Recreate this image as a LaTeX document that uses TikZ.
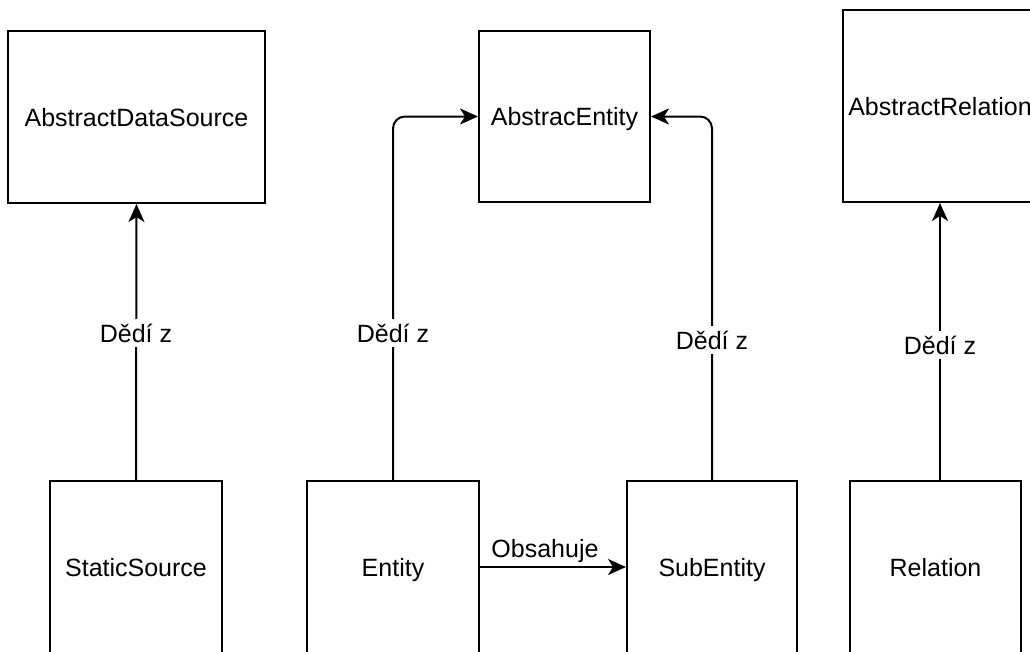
\documentclass[tikz,border=0pt]{standalone}
\usepackage{fontspec}
\setmainfont{Liberation Sans}
\usetikzlibrary{arrows.meta}
\begin{document}
\begin{tikzpicture}[x=1pt,y=-1pt,
  cls/.style={draw=black,line width=2pt,inner sep=0pt,fill=white,
    text height=20pt,text depth=2pt,
    font=\fontsize{25}{28}\selectfont},
  link/.style={line width=2pt,-{Stealth[length=18pt,width=16pt,inset=5pt]}},
  lbl/.style={fill=white,inner sep=3pt,text height=20pt,text depth=2pt,
    font=\fontsize{25}{28}\selectfont},
  plain/.style={inner sep=0pt,text height=20pt,text depth=2pt,
    font=\fontsize{25}{28}\selectfont}]
\useasboundingbox (0,0) rectangle (1030,651);
\begin{scope}
\clip (0,0) rectangle (1030,651);
% parent classes
\node[cls,minimum width=257pt,minimum height=172pt] (ads) at (136.5,117) {AbstractDataSource};
\node[cls,minimum width=171pt,minimum height=171pt] (ae) at (564.5,116.5) {AbstracEntity};
\node[cls,minimum width=194pt,minimum height=192pt] (ar) at (940,106) {AbstractRelation};
% derived classes
\node[cls,minimum width=172pt,minimum height=172pt] (ss) at (136,567) {StaticSource};
\node[cls,minimum width=172pt,minimum height=172pt] (en) at (393,567) {Entity};
\node[cls,minimum width=170pt,minimum height=172pt] (se) at (712,567) {SubEntity};
\node[cls,minimum width=171pt,minimum height=172pt] (re) at (935.5,567) {Relation};
% inheritance
\draw[link] (ss.north) -- (ads.south);
\draw[link,rounded corners=12pt] (en.north) |- (ae.west);
\draw[link,rounded corners=12pt] (se.north) |- (ae.east);
\draw[link] (re.north -| ar.south) -- (ar.south);
\node[lbl] (l1) at (136,333) {Dědí z};
\node[lbl] (l2) at (393,333) {Dědí z};
\node[lbl] (l3) at (712,340) {Dědí z};
\node[lbl] (l4) at (940,345) {Dědí z};
% composition
\draw[link] (en.east) -- (se.west);
\node[plain] (l5) at (545,548) {Obsahuje};
\end{scope}
\end{tikzpicture}
\end{document}
